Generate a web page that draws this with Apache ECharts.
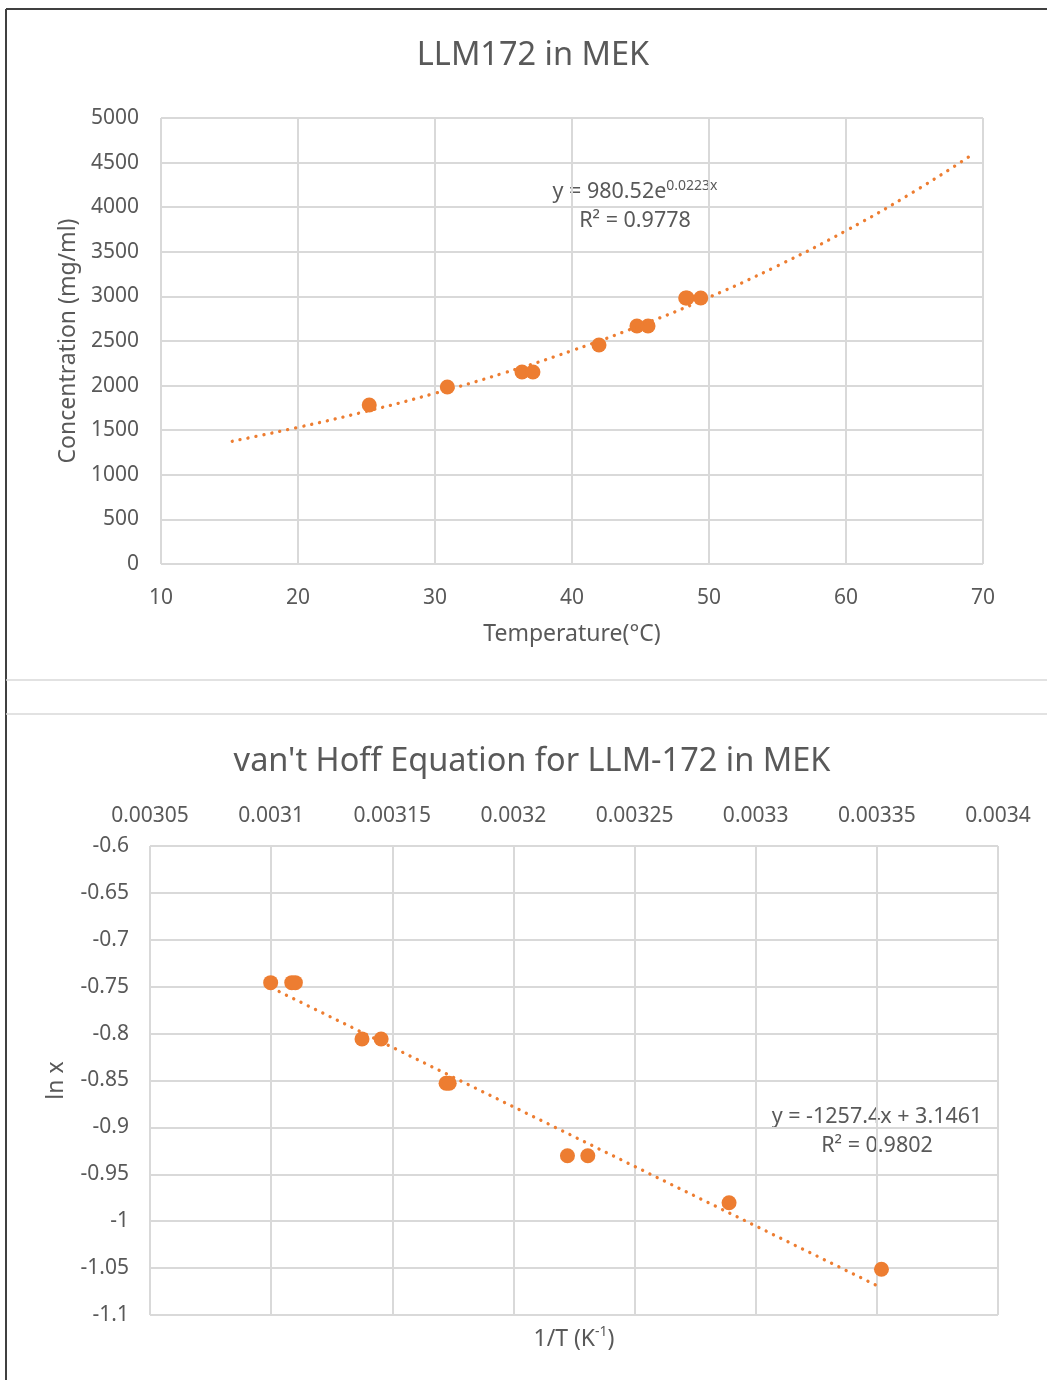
<!DOCTYPE html>
<html>
<head>
<meta charset="utf-8">
<script src="https://cdn.jsdelivr.net/npm/echarts@6/dist/echarts.min.js"></script>
<style>
  html, body { margin: 0; padding: 0; background: #fff; }
  #main { width: 1047px; height: 1380px; }
</style>
</head>
<body>
<div id="main"></div>
<script>
// top chart: concentration vs temperature
var tempC = [25.2, 30.9, 36.35, 37.15, 41.97, 44.74, 45.55, 48.3, 48.4, 49.4];
var concMgMl = [1782, 1984, 2152, 2152, 2455, 2668, 2668, 2982, 2982, 2982];
// trendline (exponential fit)
var trendTempX = [15.2, 20, 25, 30, 35, 40, 45, 50, 55, 60, 65, 69.4];
var trendConcY = [1376, 1532, 1712, 1914, 2140, 2392, 2675, 2990, 3343, 3737, 4178, 4609];

// bottom chart: van't Hoff
var invT = [0.0030998, 0.0031085, 0.0031100, 0.0031375, 0.0031454, 0.0031722, 0.0031735, 0.0032223, 0.0032307, 0.0032890, 0.0033519];
var lnX = [-0.7457, -0.7457, -0.7457, -0.8058, -0.8058, -0.8530, -0.8530, -0.9302, -0.9302, -0.9803, -1.0513];
var trendInvT = [0.0031003, 0.0033512];
var trendLnX = [-0.7514, -1.0701];

var FONT = 'Noto Sans';
var GREY = '#595959';
var ORANGE = '#ED7D31';
var GRIDC = '#d9d9d9';

function pairs(xs, ys) {
    var out = [];
    for (var i = 0; i < xs.length; i++) out.push([xs[i], ys[i]]);
    return out;
}
function plain(v) {
    return String(v);
}

var myChart = echarts.init(document.getElementById('main'));
myChart.setOption({
    animation: false,
    textStyle: { fontFamily: FONT },
    title: [
        {
            text: 'LLM172 in MEK',
            left: 528, top: 34, textAlign: 'center',
            textStyle: { fontFamily: FONT, fontSize: 32.5, fontWeight: 'normal', color: GREY }
        },
        {
            text: "van't Hoff Equation for LLM-172 in MEK",
            left: 527, top: 740, textAlign: 'center',
            textStyle: { fontFamily: FONT, fontSize: 32.5, fontWeight: 'normal', color: GREY }
        }
    ],
    grid: [
        { left: 161, top: 118, width: 822, height: 446 },
        { left: 150, top: 846, width: 848, height: 469 }
    ],
    xAxis: [
        {
            gridIndex: 0, type: 'value', min: 10, max: 70, interval: 10,
            name: 'Temperature(°C)', nameLocation: 'middle', nameGap: 59,
            nameTextStyle: { fontFamily: FONT, fontSize: 23, color: GREY },
            axisLine: { show: false }, axisTick: { show: false },
            axisLabel: { fontFamily: FONT, fontSize: 21, color: GREY, margin: 24, formatter: plain },
            splitLine: { show: true, lineStyle: { color: GRIDC, width: 2 } }
        },
        {
            gridIndex: 1, type: 'value', position: 'top', min: 0.00305, max: 0.0034, interval: 0.00005,
            axisLine: { show: false }, axisTick: { show: false },
            axisLabel: { fontFamily: FONT, fontSize: 21, color: GREY, margin: 19 },
            splitLine: { show: true, lineStyle: { color: GRIDC, width: 2 } }
        },
        {
            gridIndex: 1, type: 'value', position: 'bottom', min: 0.00305, max: 0.0034,
            name: '{a|1/T (K}{s|-1}{a|)}', nameLocation: 'middle', nameGap: 10,
            nameTextStyle: {
                rich: {
                    a: { fontFamily: FONT, fontSize: 23, color: GREY, lineHeight: 28 },
                    s: { fontFamily: FONT, fontSize: 14, color: GREY, verticalAlign: 'top', lineHeight: 28 }
                }
            },
            axisLine: { show: false }, axisTick: { show: false },
            axisLabel: { show: false }, splitLine: { show: false }
        }
    ],
    yAxis: [
        {
            gridIndex: 0, type: 'value', min: 0, max: 5000, interval: 500,
            name: 'Concentration (mg/ml)', nameLocation: 'middle', nameGap: 78,
            nameTextStyle: { fontFamily: FONT, fontSize: 23, color: GREY },
            axisLine: { show: false }, axisTick: { show: false },
            axisLabel: { fontFamily: FONT, fontSize: 21, color: GREY, margin: 22, padding: [4, 0, 0, 0], formatter: plain },
            splitLine: { show: true, lineStyle: { color: GRIDC, width: 2 } }
        },
        {
            gridIndex: 1, type: 'value', min: -1.1, max: -0.6, interval: 0.05,
            name: 'ln x', nameLocation: 'middle', nameGap: 82,
            nameTextStyle: { fontFamily: FONT, fontSize: 23, color: GREY },
            axisLine: { show: false }, axisTick: { show: false },
            axisLabel: { fontFamily: FONT, fontSize: 21, color: GREY, margin: 21, padding: [4, 0, 0, 0] },
            splitLine: { show: true, lineStyle: { color: GRIDC, width: 2 } }
        }
    ],
    series: [
        {
            type: 'line', xAxisIndex: 0, yAxisIndex: 0, smooth: true, symbol: 'none',
            data: pairs(trendTempX, trendConcY),
            lineStyle: { color: ORANGE, width: 3.3, type: [0.1, 8], cap: 'round' }
        },
        {
            type: 'scatter', xAxisIndex: 0, yAxisIndex: 0, symbolSize: 15,
            data: pairs(tempC, concMgMl),
            itemStyle: { color: ORANGE, opacity: 1 }
        },
        {
            type: 'line', xAxisIndex: 1, yAxisIndex: 1, symbol: 'none',
            data: pairs(trendInvT, trendLnX),
            lineStyle: { color: ORANGE, width: 3.3, type: [0.1, 8], cap: 'round' }
        },
        {
            type: 'scatter', xAxisIndex: 1, yAxisIndex: 1, symbolSize: 15,
            data: pairs(invT, lnX),
            itemStyle: { color: ORANGE, opacity: 1 }
        }
    ],
    graphic: [
        { type: 'line', shape: { x1: 6, y1: 9, x2: 1047, y2: 9 }, style: { stroke: '#404040', lineWidth: 2 } },
        { type: 'line', shape: { x1: 6, y1: 9, x2: 6, y2: 1380 }, style: { stroke: '#404040', lineWidth: 2 } },
        { type: 'line', shape: { x1: 6, y1: 680, x2: 1047, y2: 680 }, style: { stroke: GRIDC, lineWidth: 1.5 } },
        { type: 'line', shape: { x1: 6, y1: 714, x2: 1047, y2: 714 }, style: { stroke: GRIDC, lineWidth: 1.5 } },
        {
            type: 'text', x: 635, y: 192,
            style: {
                text: '{a|y = 980.52e}{s|0.0223x}', align: 'center', verticalAlign: 'middle',
                rich: {
                    a: { fontFamily: FONT, fontSize: 21.5, fill: GREY, lineHeight: 26 },
                    s: { fontFamily: FONT, fontSize: 14, fill: GREY, verticalAlign: 'top', lineHeight: 26 }
                }
            }
        },
        {
            type: 'text', x: 635, y: 221,
            style: { text: 'R² = 0.9778', align: 'center', verticalAlign: 'middle', fontFamily: FONT, fontSize: 21.5, fill: GREY }
        },
        {
            type: 'text', x: 877, y: 1117,
            style: { text: 'y = -1257.4x + 3.1461', align: 'center', verticalAlign: 'middle', fontFamily: FONT, fontSize: 21.5, fill: GREY }
        },
        {
            type: 'text', x: 877, y: 1146,
            style: { text: 'R² = 0.9802', align: 'center', verticalAlign: 'middle', fontFamily: FONT, fontSize: 21.5, fill: GREY }
        }
    ]
});
</script>
</body>
</html>
